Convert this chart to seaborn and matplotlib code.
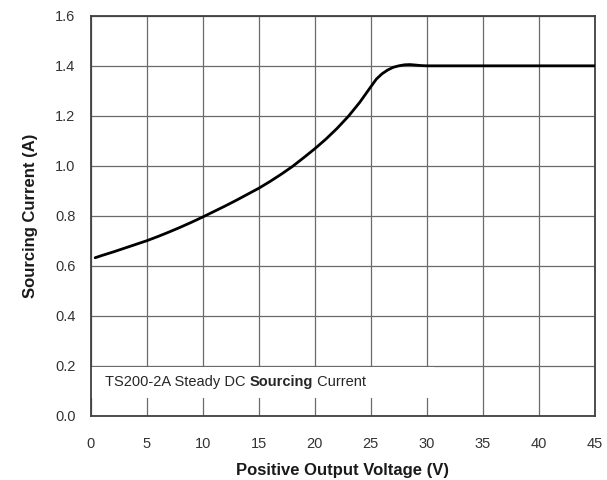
import matplotlib
matplotlib.use("Agg")
import matplotlib.pyplot as plt
import seaborn as sns
import pandas as pd

voltage = [0.4, 1, 2, 3, 4, 5, 6, 7, 8, 9, 10, 11, 12, 13, 14, 15, 16, 17, 18, 19,
           20, 21, 22, 23, 24, 25, 25.5, 26, 26.5, 27, 27.5, 28, 28.5, 29, 29.5, 30, 35, 40, 45]
current = [0.632, 0.641, 0.655, 0.670, 0.685, 0.700, 0.717, 0.735, 0.754, 0.774, 0.795,
           0.817, 0.839, 0.862, 0.886, 0.910, 0.937, 0.966, 0.997, 1.032, 1.068, 1.107,
           1.150, 1.198, 1.253, 1.316, 1.347, 1.368, 1.383, 1.394, 1.400, 1.404, 1.405,
           1.403, 1.401, 1.400, 1.400, 1.400, 1.400]
x_ticks = [0, 5, 10, 15, 20, 25, 30, 35, 40, 45]
y_ticks = [0.0, 0.2, 0.4, 0.6, 0.8, 1.0, 1.2, 1.4, 1.6]
x_label = "Positive Output Voltage (V)"
y_label = "Sourcing Current (A)"
note_parts = [("TS200-2A Steady DC ", "normal"), ("Sourcing", "bold"), (" Current", "normal")]

sns.set_style("white")
plt.rcParams["font.family"] = ["Liberation Sans", "DejaVu Sans"]

fig = plt.figure(figsize=(6.07, 4.8), dpi=100)
ax = fig.add_axes([0.1494, 0.134, 0.8306, 0.833])

df = pd.DataFrame({"V": voltage, "I": current})
sns.lineplot(data=df, x="V", y="I", ax=ax, color="black", linewidth=2.0, zorder=3,
             solid_capstyle="round", solid_joinstyle="round")

ax.set_xlim(0, 45)
ax.set_ylim(0, 1.6)
ax.set_xticks(x_ticks)
ax.set_yticks(y_ticks)
ax.set_xticklabels([str(t) for t in x_ticks])
ax.set_yticklabels([f"{t:.1f}" for t in y_ticks])
ax.tick_params(axis="x", length=0, pad=15, labelsize=10.5, labelcolor="#333333")
ax.tick_params(axis="y", length=0, pad=11, labelsize=10.5, labelcolor="#333333")
ax.grid(True, color="#6a6a6a", linewidth=0.9)
ax.set_axisbelow(True)
for s in ax.spines.values():
    s.set_visible(True)
    s.set_color("#404040")
    s.set_linewidth(1.3)

ax.set_xlabel(x_label, fontsize=12, fontweight="bold", color="#1a1a1a", labelpad=9)
ax.set_ylabel(y_label, fontsize=12, fontweight="bold", color="#1a1a1a", labelpad=12)

# white box behind note
ax.add_patch(plt.Rectangle((0.05, 0.071), 30.6, 0.124, facecolor="white", edgecolor="none", zorder=2))

prev = None
for txt, w in note_parts:
    if prev is None:
        prev = ax.text(1.25, 0.135, txt, fontsize=10.5, fontweight=w, color="#262626",
                       va="center", ha="left", zorder=4)
    else:
        prev = ax.annotate(txt, xy=(1, 0), xycoords=prev, va="bottom", ha="left",
                           fontsize=10.5, fontweight=w, color="#262626", zorder=4)

fig.savefig("out.png", dpi=100)
